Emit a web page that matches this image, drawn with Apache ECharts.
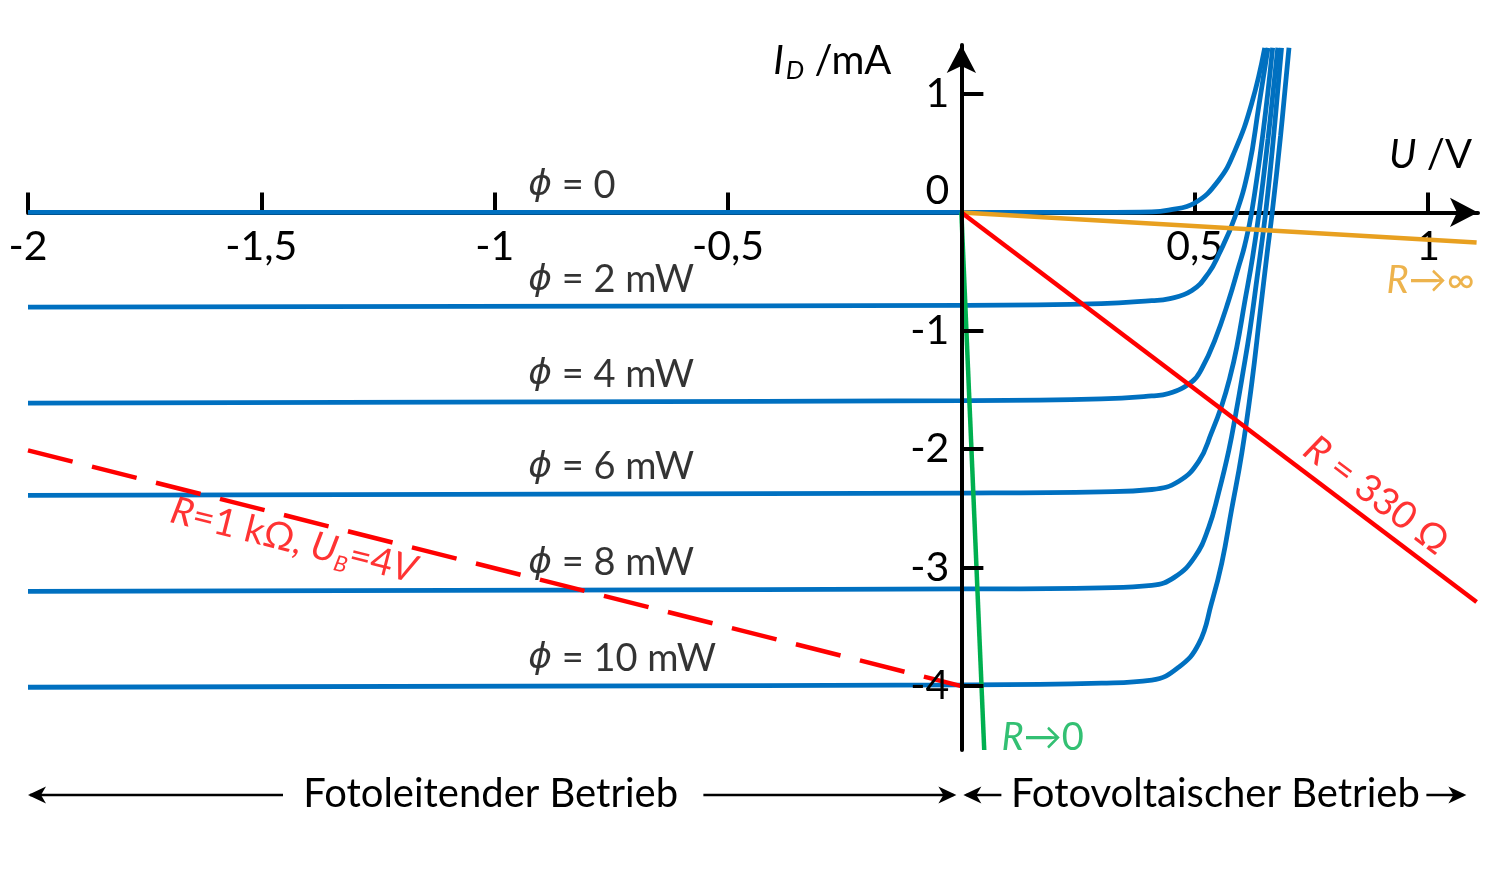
<!DOCTYPE html>
<html><head><meta charset="utf-8">
<script src="https://cdn.jsdelivr.net/npm/echarts@6/dist/echarts.min.js"></script>
<style>html,body{margin:0;padding:0;background:#fff}#c{width:1500px;height:880px}</style>
</head><body><div id="c"></div>
<script>
// ---- data (U in V, I_D in mA) ----
const uMin = -2, uMax = 1.107, iMin = -4.54, iMax = 1.414;
const xTickValues = [-2, -1.5, -1, -0.5, 0.5, 1];
const yTickValues = [-4, -3, -2, -1, 1];
const phiNames = ['0', '2 mW', '4 mW', '6 mW', '8 mW', '10 mW'];
const phiLevels = [0, -0.8, -1.6, -2.38, -3.19, -4.0];
const phiLabelU = -0.928;

const curvePhi0 = [[-2,0],[0,0],[0.30,0],[0.408,0.004],[0.444,0.02],[0.50,0.08],[0.551,0.27],[0.586,0.52],[0.622,0.92],[0.650,1.39]];
const curvePhi2 = [[-2,-0.80],[0,-0.785],[0.30,-0.77],[0.408,-0.745],[0.444,-0.73],[0.494,-0.66],[0.530,-0.51],[0.551,-0.36],[0.586,-0.04],[0.616,0.38],[0.637,0.89],[0.657,1.39]];
const curvePhi4 = [[-2,-1.61],[0,-1.59],[0.30,-1.575],[0.408,-1.55],[0.444,-1.53],[0.494,-1.43],[0.515,-1.32],[0.543,-1.08],[0.573,-0.74],[0.594,-0.46],[0.607,-0.28],[0.622,0.0],[0.646,0.66],[0.667,1.39]];
const curvePhi6 = [[-2,-2.39],[0,-2.37],[0.30,-2.36],[0.408,-2.34],[0.466,-2.27],[0.509,-2.10],[0.536,-1.86],[0.558,-1.63],[0.575,-1.40],[0.590,-1.14],[0.607,-0.76],[0.624,-0.38],[0.638,0.0],[0.657,0.62],[0.678,1.39]];
const curvePhi8 = [[-2,-3.20],[0,-3.18],[0.30,-3.17],[0.408,-3.15],[0.457,-3.08],[0.500,-2.91],[0.530,-2.66],[0.551,-2.37],[0.573,-2.01],[0.588,-1.70],[0.603,-1.36],[0.618,-1.00],[0.633,-0.57],[0.652,0.0],[0.668,0.60],[0.686,1.39]];
const curvePhi10 = [[-2,-4.01],[0,-3.99],[0.30,-3.975],[0.408,-3.95],[0.466,-3.84],[0.509,-3.64],[0.536,-3.30],[0.558,-2.96],[0.579,-2.51],[0.601,-2.03],[0.622,-1.45],[0.640,-0.85],[0.655,-0.35],[0.666,0.0],[0.684,0.65],[0.702,1.39]];

const loadInf = [[0,0],[1.104,-0.253]];
const load330 = [[0,0],[1.104,-3.29]];
const load0 = [[0,0],[0.049,-4.54]];
const load1k = [[-2,-2.01],[0,-4.0]];

const labelInfAt = [0.911, -0.574];
const label330At = [0.889, -2.39];
const label1kAt = [-1.431, -2.77];
const label0At = [0.086, -4.44];

// ---- styles ----
const FONT = 'Lato';
const FS = 38, FT = 41, FB = 40;
const BLUE = '#0070C0', RED = '#FF0000', ORANGE = '#E8A020', GREEN = '#00B050';
const G = {left: 28, right: 22, top: 45, bottom: 130};
const GW = 1500 - G.left - G.right, GH = 880 - G.top - G.bottom;

const curves = [curvePhi0, curvePhi2, curvePhi4, curvePhi6, curvePhi8, curvePhi10];

function richBase(color, fs) {
  fs = fs || FS;
  return {
    n: {fontFamily: FONT, fontSize: fs, color: color, lineHeight: 46},
    i: {fontFamily: FONT, fontSize: fs, color: color, fontStyle: 'italic', lineHeight: 46},
    p: {fontFamily: 'DejaVu Sans', fontSize: fs - 2, color: color, fontStyle: 'italic', lineHeight: 46},
    s: {fontFamily: FONT, fontSize: 22, color: color, fontStyle: 'italic', lineHeight: 22, verticalAlign: 'bottom'},
    d: {fontFamily: FONT, fontSize: 26, color: color, fontStyle: 'italic', lineHeight: 26, verticalAlign: 'bottom', padding: [0, 0, 0, 2]}
  };
}

const series = [];
curves.forEach((c) => {
  series.push({
    type: 'line', data: c, showSymbol: false, symbol: 'none', smooth: 0.45,
    clip: false, z: 2,
    lineStyle: {color: BLUE, width: 4.8}
  });
});
function loadLine(d, color, type) {
  return {type: 'line', data: d, showSymbol: false, symbol: 'none', clip: false, z: 4,
    lineStyle: {color: color, width: 4.5, type: type || 'solid'}};
}
series.push(loadLine(loadInf, ORANGE));
series.push(loadLine(load330, RED));
series.push(loadLine(load0, GREEN));
series.push(loadLine(load1k, RED, [46, 20]));

series.push({
  type: 'scatter', symbolSize: 0, z: 6, silent: true,
  data: phiLevels.map((l, i) => ({
    value: [phiLabelU, l],
    label: {formatter: '{p|ϕ}{n| = ' + phiNames[i] + '}'}
  })),
  label: {show: true, position: 'right', distance: 0, offset: [0, -27], rich: richBase('#000')}
});
series.push({
  type: 'scatter', symbolSize: 0, z: 6, silent: true,
  data: [
    {value: labelInfAt, label: {position: 'right', formatter: '{i|R}{n|→∞}', rich: richBase(ORANGE)}},
    {value: label330At, label: {position: 'inside', rotate: -37, formatter: '{i|R}{n| = 330 Ω}', rich: richBase(RED)}},
    {value: label1kAt, label: {position: 'inside', rotate: -14, formatter: '{i|R}{n|=1 kΩ, }{i|U}{s|B}{n|=4}{i|V}', rich: richBase(RED)}},
    {value: label0At, label: {position: 'right', formatter: '{i|R}{n|→0}', rich: richBase(GREEN)}}
  ],
  label: {show: true, distance: 0}
});

const chart = echarts.init(document.getElementById('c'));
const option = {
  animation: false,
  backgroundColor: '#fff',
  grid: {left: G.left, right: G.right, top: G.top, bottom: G.bottom, containLabel: false, outerBoundsMode: 'none'},
  xAxis: {
    type: 'value', min: uMin, max: uMax, z: 1, position: 'bottom',
    offset: -(0 - iMin) / (iMax - iMin) * GH,
    axisLine: {onZero: false, lineStyle: {color: '#000', width: 4}, symbol: ['none', 'arrow'], symbolSize: [22, 28]},
    axisTick: {show: true, inside: true, length: 20, lineStyle: {color: '#000', width: 4}, customValues: xTickValues},
    axisLabel: {show: true, margin: 14, color: '#000', fontFamily: FONT, fontSize: FT, customValues: xTickValues,
      formatter: v => String(v).replace('.', ',')},
    splitLine: {show: false}
  },
  yAxis: {
    type: 'value', min: iMin, max: iMax, z: 10, position: 'left',
    offset: -(0 - uMin) / (uMax - uMin) * GW,
    axisLine: {onZero: false, lineStyle: {color: '#000', width: 4}, symbol: ['none', 'arrow'], symbolSize: [22, 28]},
    axisTick: {show: true, inside: true, length: 22, lineStyle: {color: '#000', width: 4}, customValues: yTickValues},
    axisLabel: {show: true, margin: 12, color: '#000', fontFamily: FONT, fontSize: FT, customValues: yTickValues,
      formatter: v => String(v).replace('.', ',')},
    splitLine: {show: false}
  },
  series: series
};
chart.setOption(option);

// ---- annotations positioned from the axes ----
const P = (u, i) => chart.convertToPixel({gridIndex: 0}, [u, i]);
const o = P(0, 0), pL = P(uMin, 0), pR = P(uMax, 0), pT = P(0, iMax);
const yB = 795;
function arrowHead(x, y, dir) {
  const L = 18, W = 8.5, N = 13;
  return {type: 'polygon', shape: {points: [[x, y], [x - dir * L, y - W], [x - dir * N, y], [x - dir * L, y + W]]}, style: {fill: '#000'}, z: 20};
}
function hline(x1, x2, y) {
  return {type: 'line', shape: {x1: x1, y1: y, x2: x2, y2: y}, style: {stroke: '#000', lineWidth: 2.5}, z: 20};
}
const txt = (x, y, text, rich, align, fs) => ({type: 'text', x: x, y: y, z: 20,
  style: {text: text, rich: rich, align: align || 'center', verticalAlign: 'middle', fontFamily: FONT, fontSize: fs || FB, fill: '#000'}});

const rb = richBase('#000', 40);
const els = [
  txt(o[0] - 12, o[1] - 22, '0', null, 'right', FT),
  txt(pT[0] - 70, pT[1] + 16, '{i|I}{d|D}{n| /mA}', {i: rb.i, d: rb.d, n: rb.n}, 'right'),
  txt(pR[0] - 6, o[1] - 57, '{i|U}{n| /V}', {i: rb.i, n: rb.n}, 'right'),
  hline(pL[0] + 2, pL[0] + 255, yB), arrowHead(pL[0], yB, -1),
  txt((pL[0] + o[0]) / 2 - 4, yB - 1, 'Fotoleitender Betrieb'),
  hline(o[0] - 258, o[0] - 8, yB), arrowHead(o[0] - 5, yB, 1),
  hline(o[0] + 5, o[0] + 40, yB), arrowHead(o[0] + 2, yB, -1),
  txt(o[0] + 254, yB - 1, 'Fotovoltaischer Betrieb'),
  hline(o[0] + 465, o[0] + 502, yB), arrowHead(o[0] + 505, yB, 1)
];
chart.setOption({graphic: {elements: els}});
</script>
</body></html>
